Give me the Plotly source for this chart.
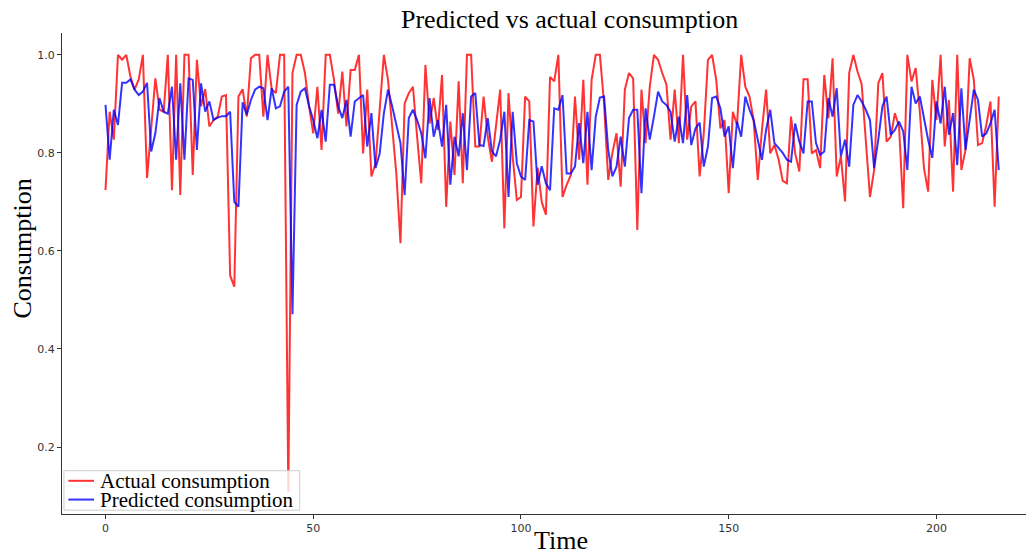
import plotly.graph_objects as go

time_index = list(range(216))

actual_consumption = [
    0.724, 0.884, 0.827, 1.0, 0.99, 1.0, 0.956, 0.929, 0.95, 1.0,
    0.749, 0.85, 0.952, 0.888, 0.884, 1.0, 0.724, 1.0, 0.714, 1.0,
    1.0, 0.755, 0.99, 0.895, 0.93, 0.854, 0.867, 0.874, 0.915, 0.918,
    0.55, 0.527, 0.915, 0.93, 0.874, 0.993, 1.0, 1.0, 0.874, 1.0,
    0.93, 0.922, 1.0, 1.0, 0.108, 0.963, 1.0, 1.0, 0.963, 0.895,
    0.84, 0.935, 0.806, 1.0, 1.0, 0.949, 0.88, 0.966, 0.854, 0.969,
    0.969, 1.0, 0.799, 0.929, 0.752, 0.779, 0.895, 1.0, 0.949, 0.86,
    0.758, 0.616, 0.901, 0.922, 0.935, 0.833, 0.738, 0.979, 0.86, 0.912,
    0.847, 0.959, 0.69, 0.864, 0.755, 0.946, 0.738, 1.0, 1.0, 0.813,
    0.813, 0.915, 0.833, 0.782, 0.86, 0.929, 0.646, 0.922, 0.793, 0.704,
    0.71, 0.915, 0.905, 0.65, 0.77, 0.70, 0.674, 0.955, 0.946, 1.0,
    0.71, 0.735, 0.755, 0.915, 0.786, 0.949, 0.735, 0.949, 1.0, 1.0,
    0.901, 0.745, 0.80, 0.84, 0.731, 0.929, 0.963, 0.952, 0.643, 0.929,
    0.82, 0.935, 1.0, 0.99, 0.963, 0.94, 0.827, 0.929, 0.82, 1.0,
    0.827, 0.895, 0.905, 0.752, 0.84, 0.99, 1.0, 0.949, 0.85, 0.867,
    0.718, 0.884, 0.857, 1.0, 0.935, 0.915, 0.867, 0.745, 0.847, 0.929,
    0.799, 0.816, 0.787, 0.743, 0.738, 0.874, 0.799, 0.762, 0.95, 0.95,
    0.799, 0.806, 0.769, 0.959, 0.871, 0.993, 0.752, 0.793, 0.701, 0.963,
    1.0, 0.966, 0.94, 0.82, 0.71, 0.765, 0.942, 0.963, 0.823, 0.833,
    0.881, 0.854, 0.687, 1.0, 0.946, 0.973, 0.884, 0.769, 0.721, 0.949,
    0.867, 1.0, 0.813, 0.908, 0.721, 1.0, 0.765, 0.806, 0.993, 0.949,
    0.816, 0.82, 0.857, 0.905, 0.69, 0.915,
]

predicted_consumption = [
    0.898, 0.786, 0.888, 0.857, 0.943, 0.943, 0.95, 0.929, 0.918, 0.925,
    0.943, 0.803, 0.84, 0.912, 0.884, 0.88, 0.935, 0.786, 0.942, 0.786,
    0.952, 0.949, 0.806, 0.942, 0.884, 0.905, 0.867, 0.872, 0.875, 0.875,
    0.884, 0.70, 0.69, 0.903, 0.878, 0.908, 0.929, 0.935, 0.932, 0.867,
    0.932, 0.891, 0.895, 0.925, 0.935, 0.471, 0.898, 0.925, 0.932, 0.895,
    0.867, 0.83, 0.888, 0.823, 0.939, 0.939, 0.895, 0.871, 0.908, 0.833,
    0.905, 0.912, 0.918, 0.813, 0.881, 0.769, 0.799, 0.881, 0.929, 0.895,
    0.854, 0.82, 0.714, 0.871, 0.888, 0.867, 0.84, 0.789, 0.912, 0.833,
    0.867, 0.813, 0.898, 0.735, 0.833, 0.793, 0.881, 0.765, 0.915, 0.922,
    0.816, 0.814, 0.871, 0.803, 0.793, 0.827, 0.884, 0.71, 0.884, 0.779,
    0.752, 0.745, 0.867, 0.864, 0.735, 0.773, 0.738, 0.724, 0.891, 0.888,
    0.918, 0.758, 0.758, 0.772, 0.861, 0.779, 0.884, 0.765, 0.874, 0.913,
    0.915, 0.806, 0.752, 0.772, 0.833, 0.772, 0.871, 0.888, 0.888, 0.718,
    0.891, 0.827, 0.874, 0.925, 0.905, 0.898, 0.884, 0.823, 0.874, 0.82,
    0.918, 0.816, 0.85, 0.862, 0.772, 0.813, 0.912, 0.915, 0.891, 0.833,
    0.854, 0.769, 0.864, 0.833, 0.915, 0.888, 0.867, 0.827, 0.786, 0.847,
    0.888, 0.82, 0.811, 0.80, 0.786, 0.782, 0.86, 0.823, 0.799, 0.905,
    0.905, 0.82, 0.796, 0.803, 0.912, 0.874, 0.932, 0.793, 0.827, 0.772,
    0.898, 0.918, 0.905, 0.888, 0.867, 0.769, 0.827, 0.895, 0.915, 0.837,
    0.847, 0.864, 0.844, 0.765, 0.935, 0.901, 0.915, 0.867, 0.827, 0.79,
    0.905, 0.86, 0.935, 0.837, 0.881, 0.775, 0.932, 0.806, 0.867, 0.929,
    0.908, 0.833, 0.84, 0.86, 0.888, 0.765,
]

series_names = ["Actual consumption", "Predicted consumption"]
series_colors = ["rgba(255,0,0,0.8)", "rgba(0,0,255,0.8)"]

x_ticks = [0, 50, 100, 150, 200]
y_ticks = [0.2, 0.4, 0.6, 0.8, 1.0]
y_tick_labels = ["0.2", "0.4", "0.6", "0.8", "1.0"]

serif = "Liberation Serif, Times New Roman, serif"
sans = "DejaVu Sans, sans-serif"

fig = go.Figure()
for name, color, values in zip(series_names, series_colors,
                               [actual_consumption, predicted_consumption]):
    fig.add_trace(go.Scatter(
        x=time_index, y=values, mode="lines", name=name,
        line=dict(color=color, width=2), showlegend=False,
    ))

# matplotlib-style legend box (lower left, inside axes)
shapes = [
    dict(type="rect", xref="paper", yref="paper", layer="above",
         x0=0.002, x1=0.245, y0=0.008, y1=0.090,
         fillcolor="rgba(255,255,255,0.8)",
         line=dict(color="rgba(200,200,200,0.9)", width=1)),
]
annotations = []
legend_rows_y = [0.069, 0.030]
for name, color, ly in zip(series_names, series_colors, legend_rows_y):
    shapes.append(dict(type="line", xref="paper", yref="paper", layer="above",
                       x0=0.0065, x1=0.033, y0=ly, y1=ly,
                       line=dict(color=color, width=2)))
    annotations.append(dict(text=name, xref="paper", yref="paper",
                            x=0.037, y=ly, xanchor="left", yanchor="middle",
                            showarrow=False,
                            font=dict(family=serif, size=21, color="black")))

annotations += [
    dict(text="Predicted vs actual consumption", xref="paper", yref="paper",
         x=0.523, y=1.0, yshift=14, xanchor="center", yanchor="middle",
         showarrow=False, font=dict(family=serif, size=26, color="black")),
    dict(text="Time", xref="paper", yref="paper",
         x=0.514, y=0, yshift=-26, xanchor="center", yanchor="middle",
         showarrow=False, font=dict(family=serif, size=26, color="black")),
    dict(text="Consumption", xref="paper", yref="paper",
         x=0, xshift=-40, y=0.552, xanchor="center", yanchor="middle",
         textangle=-90,
         showarrow=False, font=dict(family=serif, size=26, color="black")),
]

fig.update_layout(
    width=1026, height=546,
    margin=dict(l=54, r=2, t=25, b=40),
    paper_bgcolor="white", plot_bgcolor="white",
    showlegend=False,
    xaxis=dict(
        range=[-10.47, 223.0], tickvals=x_ticks,
        showgrid=False, zeroline=False,
        showline=True, linecolor="#333", linewidth=1,
        ticks="outside", ticklen=4, tickcolor="#333",
        tickfont=dict(family=sans, size=11, color="#333"),
    ),
    yaxis=dict(
        range=[0.0634, 1.0446], tickvals=y_ticks, ticktext=y_tick_labels,
        showgrid=False, zeroline=False,
        showline=True, linecolor="#333", linewidth=1,
        ticks="outside", ticklen=4, tickcolor="#333",
        tickfont=dict(family=sans, size=11, color="#333"),
    ),
    shapes=shapes,
    annotations=annotations,
)

fig.write_html("out.html")
